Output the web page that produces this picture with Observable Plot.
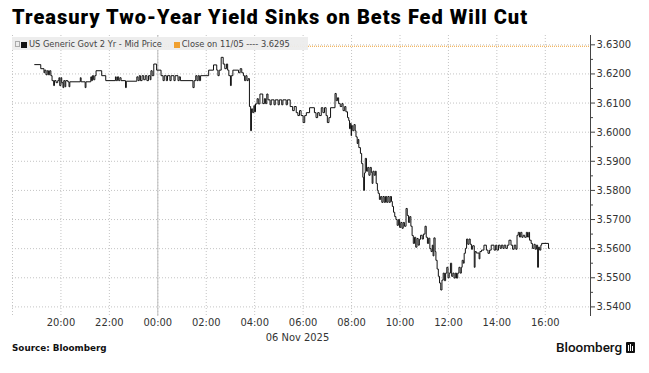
<!DOCTYPE html>
<html>
<head>
<meta charset="utf-8">
<script src="https://cdn.jsdelivr.net/npm/d3@7"></script>
<script src="https://cdn.jsdelivr.net/npm/@observablehq/plot@0.6"></script>
<style>
  html, body { margin: 0; padding: 0; background: #fff; }
  body { width: 649px; height: 373px; overflow: hidden; position: relative;
         font-family: "DejaVu Sans Condensed", "DejaVu Sans", sans-serif; }
  #title { position: absolute; left: 12px; top: 5px; font-family: Roboto, sans-serif;
           font-weight: 900; font-size: 20px; color: #000; white-space: nowrap; }
  #chart { position: absolute; left: 0; top: 30px; }
  #legend { position: absolute; left: 12px; top: 37px; height: 13px; width: 296px;
            background: rgba(236,236,236,0.95); font-size: 9.2px; color: #444;
            line-height: 13px; white-space: nowrap; }
  #legend .sq { display: inline-block; width: 6px; height: 6px; vertical-align: -0.5px; margin-right: 2px; }
  #legend .ic { display: inline-block; width: 3px; height: 4px; border: 1px solid #aaa; vertical-align: 0px; margin: 0 1px 0 3px; }
  #source { position: absolute; left: 12px; top: 343px; font-family: "DejaVu Sans", sans-serif;
            font-weight: bold; font-size: 8.8px; color: #111; }
  #logo { position: absolute; left: 556px; top: 339px; font-family: Roboto, sans-serif;
          font-weight: 500; font-size: 13.5px; color: #111; white-space: nowrap; }
  #logo svg { vertical-align: -1px; margin-left: 4px; }
</style>
</head>
<body>
<div id="title"></div>
<div id="chart"></div>
<div id="legend"></div>
<div id="source"></div>
<div id="logo"></div>
<script>
// ---------------- data ----------------
const titleText = "Treasury Two-Year Yield Sinks on Bets Fed Will Cut";
const seriesName = "US Generic Govt 2 Yr - Mid Price";
const closeName = "Close on 11/05";
const closeValue = 3.6295;
const sourceText = "Source: Bloomberg";
const brandText = "Bloomberg";
const dateLabel = "06 Nov 2025";

// Intraday quote times (Nov 5 evening -> Nov 6), HH:MM
const times = [
"18:55","19:10","19:18","19:20","19:23","19:26","19:29","19:32","19:35","19:38","19:42","19:44","19:48","19:52","19:55","19:57",
"20:00","20:02","20:05","20:07","20:10","20:12","20:17","20:20","20:22","20:48","20:50","21:00","21:02","21:14","21:16","21:18",
"21:21","21:24","21:27","21:41","21:51","22:15","22:17","22:20","22:23","22:26","22:29","22:40","22:42","23:08","23:11","23:14",
"23:17","23:21","23:25","23:29","23:33","23:37","23:41","23:43","23:46","23:50","23:57","00:08","00:13","00:16","00:21","00:24",
"00:30","00:33","00:40","00:43","00:50","00:53","00:56","01:27","01:30","01:34","01:37","01:40","01:43","01:46","02:06","02:18",
"02:26","02:29","02:32","02:37","02:42","02:46","02:50","02:53","02:56","03:00","03:02","03:06","03:20","03:24","03:28","03:32",
"03:35","03:38","03:41","03:44","03:47","03:50","03:52","03:55","03:58","04:00","04:02","04:06","04:09","04:13","04:20","04:24",
"04:27","04:30","04:33","04:38","04:41","04:48","04:51","04:58","05:01","05:07","05:10","05:18","05:21","05:28","05:34","05:38",
"05:43","05:47","05:51","05:55","06:00","06:04","06:08","06:16","06:28","06:32","06:36","06:40","06:45","06:49","06:53","06:57",
"07:00","07:04","07:08","07:19","07:22","07:25","07:28","07:32","07:36","07:39","07:43","07:46","07:50","07:53","07:55","07:57",
"07:59","08:00","08:03","08:06","08:09","08:11","08:14","08:16","08:18","08:22","08:25","08:28","08:30","08:32","08:34","08:37",
"08:40","08:43","08:46","08:49","08:51","08:53","08:56","08:59","09:01","09:04","09:06","09:09","09:12","09:15","09:18","09:21",
"09:24","09:27","09:30","09:33","09:36","09:39","09:41","09:44","09:47","09:50","09:53","09:56","09:59","10:02","10:05","10:08",
"10:11","10:15","10:18","10:21","10:24","10:27","10:30","10:33","10:36","10:39","10:42","10:45","10:48","10:51","10:55","10:58",
"11:02","11:05","11:08","11:11","11:14","11:17","11:20","11:22","11:24","11:27","11:29","11:32","11:35","11:38","11:41","11:44",
"11:47","11:50","11:53","11:56","11:59","12:02","12:05","12:08","12:11","12:14","12:17","12:20","12:23","12:26","12:29","12:32",
"12:34","12:37","12:39","12:42","12:45","12:48","12:51","12:54","12:57","13:00","13:04","13:06","13:09","13:16","13:18","13:22",
"13:28","13:34","13:38","13:42","13:46","13:53","13:57","14:00","14:04","14:08","14:11","14:15","14:18","14:22","14:26","14:30",
"14:35","14:39","14:43","14:47","14:50","14:53","14:56","14:59","15:02","15:05","15:09","15:13","15:16","15:19","15:21","15:25",
"15:28","15:32","15:35","15:38","15:41","15:43","15:46","15:49","15:51","16:08","16:10"
];
// Mid-price yield (%)
const yields = [
3.6232,3.6218,3.6204,3.6213,3.6197,3.6211,3.6197,3.6211,3.6194,3.6177,3.6160,3.6177,3.6170,3.6177,3.6187,3.6160,
3.6187,3.6170,3.6153,3.6177,3.6156,3.6177,3.6173,3.6156,3.6173,3.6187,3.6173,3.6153,3.6173,3.6190,3.6177,3.6194,
3.6180,3.6194,3.6211,3.6194,3.6177,3.6190,3.6177,3.6190,3.6177,3.6187,3.6177,3.6153,3.6175,3.6190,3.6177,3.6194,
3.6177,3.6194,3.6180,3.6194,3.6177,3.6194,3.6180,3.6211,3.6194,3.6234,3.6213,3.6194,3.6177,3.6194,3.6177,3.6194,
3.6177,3.6194,3.6177,3.6194,3.6177,3.6190,3.6177,3.6153,3.6177,3.6194,3.6177,3.6194,3.6177,3.6194,3.6213,3.6231,
3.6213,3.6194,3.6213,3.6257,3.6234,3.6218,3.6234,3.6213,3.6194,3.6160,3.6194,3.6213,3.6204,3.6218,3.6204,3.6194,
3.6177,3.6194,3.6177,3.6184,3.6088,3.6005,3.6080,3.6067,3.6091,3.6070,3.6097,3.6115,3.6097,3.6131,3.6098,3.6115,
3.6098,3.6131,3.6111,3.6094,3.6111,3.6094,3.6111,3.6094,3.6111,3.6094,3.6111,3.6094,3.6111,3.6088,3.6074,3.6088,
3.6067,3.6057,3.6074,3.6057,3.6033,3.6057,3.6067,3.6084,3.6067,3.6050,3.6067,3.6057,3.6084,3.6067,3.6084,3.6057,
3.6033,3.6050,3.6084,3.6133,3.6108,3.6118,3.6098,3.6088,3.6098,3.6074,3.6088,3.6070,3.6050,3.6040,3.6012,3.6030,
3.5988,3.6022,3.6005,3.6026,3.6005,3.5984,3.5961,3.5975,3.5947,3.5927,3.5892,3.5845,3.5800,3.5860,3.5910,3.5866,
3.5879,3.5852,3.5879,3.5862,3.5824,3.5866,3.5852,3.5866,3.5824,3.5800,3.5790,3.5769,3.5779,3.5759,3.5779,3.5759,
3.5779,3.5759,3.5779,3.5759,3.5779,3.5762,3.5745,3.5725,3.5710,3.5700,3.5680,3.5700,3.5673,3.5690,3.5670,3.5690,
3.5677,3.5738,3.5714,3.5690,3.5710,3.5677,3.5645,3.5618,3.5639,3.5605,3.5635,3.5612,3.5632,3.5646,3.5633,3.5650,
3.5677,3.5639,3.5618,3.5636,3.5600,3.5590,3.5612,3.5575,3.5637,3.5590,3.5560,3.5530,3.5505,3.5482,3.5458,3.5492,
3.5516,3.5490,3.5516,3.5536,3.5500,3.5516,3.5550,3.5505,3.5516,3.5499,3.5516,3.5499,3.5516,3.5536,3.5516,3.5536,
3.5560,3.5550,3.5584,3.5601,3.5633,3.5615,3.5633,3.5615,3.5598,3.5610,3.5536,3.5590,3.5585,3.5565,3.5590,3.5595,
3.5612,3.5595,3.5584,3.5595,3.5612,3.5595,3.5612,3.5595,3.5612,3.5601,3.5612,3.5601,3.5612,3.5601,3.5612,3.5629,
3.5612,3.5598,3.5612,3.5598,3.5646,3.5656,3.5640,3.5656,3.5639,3.5646,3.5639,3.5656,3.5640,3.5656,3.5629,3.5618,
3.5601,3.5615,3.5598,3.5612,3.5536,3.5605,3.5595,3.5612,3.5618,3.5601,3.5601
];

// Axis ticks
const xTickLabels = ["20:00","22:00","00:00","02:00","04:00","06:00","08:00","10:00","12:00","14:00","16:00"];
const xGridLabels = ["18:00", ...xTickLabels];
const dayBreak = "00:00";
const yTicks = [3.54, 3.55, 3.56, 3.57, 3.58, 3.59, 3.60, 3.61, 3.62, 3.63];
const yMinorTicks = [3.545, 3.555, 3.565, 3.575, 3.585, 3.595, 3.605, 3.615, 3.625];
const xDomainLabels = ["18:00", "17:52"];
const yDomain = [3.5367, 3.6332];

// ---------------- build ----------------
const parseT = (s, endDay) => {
  const [h, m] = s.split(":").map(Number);
  const day = endDay ? 6 : (h >= 18 ? 5 : 6);
  return new Date(Date.UTC(2025, 10, day, h, m));
};
const data = times.map((t, i) => ({ time: parseT(t), value: yields[i] }));
const xDomain = [parseT(xDomainLabels[0]), parseT(xDomainLabels[1], true)];
const fontFam = '"DejaVu Sans Condensed", "DejaVu Sans", sans-serif';

const chart = Plot.plot({
  width: 649,
  height: 312,
  marginLeft: 12,
  marginRight: 59,
  marginTop: 5,
  marginBottom: 26,
  style: { fontFamily: fontFam, fontSize: "11px", color: "#333", background: "transparent", overflow: "visible" },
  x: { type: "utc", domain: xDomain, axis: null },
  y: { domain: yDomain, axis: null },
  marks: [
    Plot.ruleY(yTicks, { stroke: "#c4c4c4", strokeDasharray: "1,2" }),
    Plot.ruleX(xGridLabels.map(s => parseT(s)), { stroke: "#c4c4c4", strokeDasharray: "1,2" }),
    Plot.ruleX([parseT(dayBreak)], { stroke: "#bdbdbd", strokeWidth: 1 }),
    Plot.ruleY([closeValue], { stroke: "#f0a030", strokeWidth: 1.2, strokeDasharray: "1,1" }),
    Plot.line(data, { x: "time", y: "value", curve: "step-after", stroke: "#111", strokeWidth: 1 }),
    Plot.ruleX([xDomain[1]], { stroke: "#444", strokeWidth: 1 }),
    Plot.axisY(yTicks, { anchor: "right", tickSize: 4, tickPadding: 2, tickFormat: d3.format(".4f"),
                         label: null, stroke: "#444", fill: "#333", fontSize: 11 }),
    Plot.axisY(yMinorTicks, { anchor: "right", tickSize: 2, tickFormat: () => "", label: null, stroke: "#444" }),
    Plot.axisX(xTickLabels.map(s => parseT(s)), { anchor: "bottom", tickSize: 0, tickPadding: 2,
                         tickFormat: d3.utcFormat("%H:%M"), label: null, fill: "#333", fontSize: 11 }),
    Plot.text([dateLabel], { frameAnchor: "bottom", dy: 24, dx: -4, text: d => d, fill: "#333", fontSize: 11 })
  ]
});
document.getElementById("chart").appendChild(chart);

// Title, legend, footer
const title = document.getElementById("title");
title.textContent = titleText;
const w = title.getBoundingClientRect().width;
title.style.letterSpacing = ((516 - w) / titleText.length).toFixed(3) + "px";

const legend = document.getElementById("legend");
legend.innerHTML =
  '<span class="ic"></span><span class="sq" style="background:#111"></span>' + seriesName +
  '<span style="display:inline-block;width:12px"></span>' +
  '<span class="sq" style="background:#f0a030"></span>' + closeName + ' ---- ' + closeValue.toFixed(4);

document.getElementById("source").textContent = sourceText;
document.getElementById("logo").innerHTML = brandText +
  '<svg width="9" height="11" viewBox="0 0 9 11"><rect x="0" y="0" width="9" height="11" rx="1" fill="#111"/>' +
  '<rect x="2" y="3" width="1" height="6" fill="#fff"/><rect x="4" y="2" width="1" height="7" fill="#fff"/>' +
  '<rect x="6" y="4" width="1" height="5" fill="#fff"/></svg>';
</script>
</body>
</html>
